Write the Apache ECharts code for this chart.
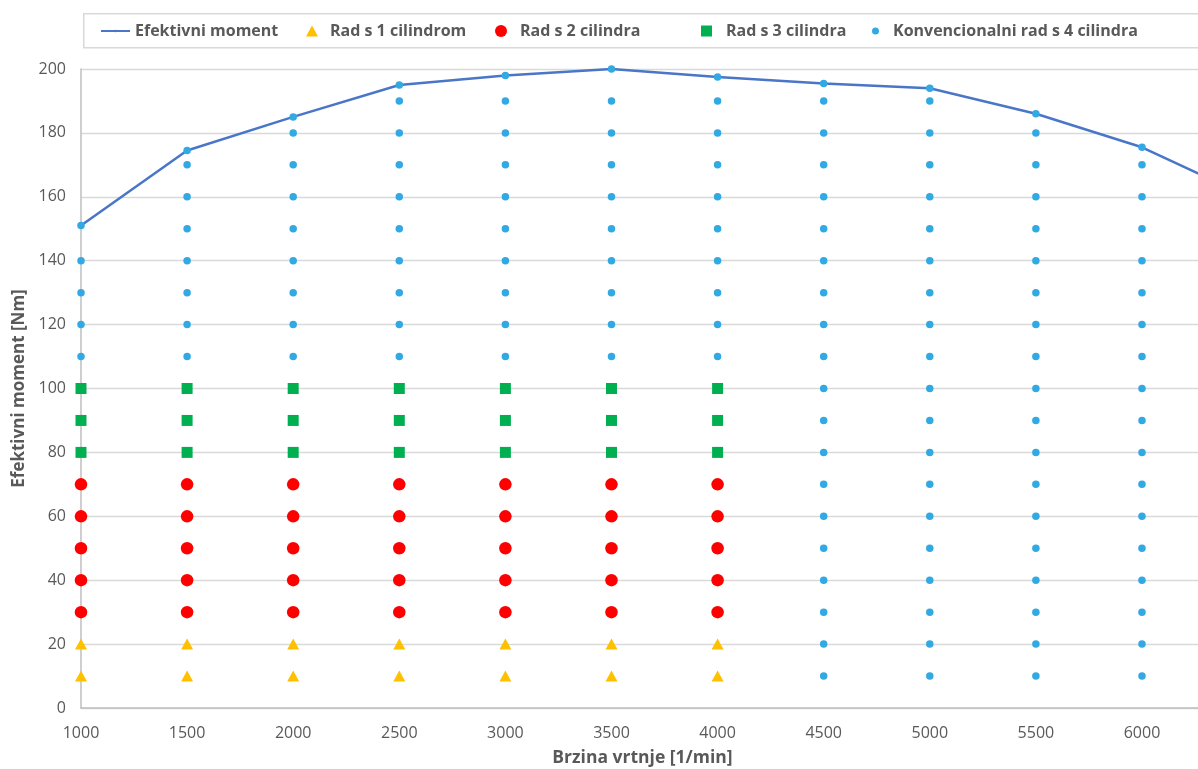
<!DOCTYPE html>
<html>
<head>
<meta charset="utf-8">
<script src="https://cdn.jsdelivr.net/npm/echarts@6/dist/echarts.min.js"></script>
<style>
html,body{margin:0;padding:0;background:#fff;}
#chart{width:1198px;height:769px;}
</style>
</head>
<body>
<div id="chart"></div>
<script>
// ---- data ----
const speeds = [1000, 1500, 2000, 2500, 3000, 3500, 4000, 4500, 5000, 5500, 6000, 6500];
const effMoment = [151, 174.5, 185, 195, 198, 200, 197.5, 195.5, 194, 186, 175.5, 160];

const cyl1Speeds = [1000, 1500, 2000, 2500, 3000, 3500, 4000];
const cyl1Torque = [10, 20];
const cyl2Speeds = [1000, 1500, 2000, 2500, 3000, 3500, 4000];
const cyl2Torque = [30, 40, 50, 60, 70];
const cyl3Speeds = [1000, 1500, 2000, 2500, 3000, 3500, 4000];
const cyl3Torque = [80, 90, 100];

const conv4Speeds = [1000, 1500, 2000, 2500, 3000, 3500, 4000, 4500, 5000, 5500, 6000];
const conv4Torque = [
  [110, 120, 130, 140, 151],
  [110, 120, 130, 140, 150, 160, 170, 174.5],
  [110, 120, 130, 140, 150, 160, 170, 180, 185],
  [110, 120, 130, 140, 150, 160, 170, 180, 190, 195],
  [110, 120, 130, 140, 150, 160, 170, 180, 190, 198],
  [110, 120, 130, 140, 150, 160, 170, 180, 190, 200],
  [110, 120, 130, 140, 150, 160, 170, 180, 190, 197.5],
  [10, 20, 30, 40, 50, 60, 70, 80, 90, 100, 110, 120, 130, 140, 150, 160, 170, 180, 190, 195.5],
  [10, 20, 30, 40, 50, 60, 70, 80, 90, 100, 110, 120, 130, 140, 150, 160, 170, 180, 190, 194],
  [10, 20, 30, 40, 50, 60, 70, 80, 90, 100, 110, 120, 130, 140, 150, 160, 170, 180, 186],
  [10, 20, 30, 40, 50, 60, 70, 80, 90, 100, 110, 120, 130, 140, 150, 160, 170, 175.5]
];

const names = ['Efektivni moment', 'Rad s 1 cilindrom', 'Rad s 2 cilindra', 'Rad s 3 cilindra', 'Konvencionalni rad s 4 cilindra'];
const xTicks = { min: 1000, max: 6264, step: 500 };
const yTicks = { min: 0, max: 200, step: 20 };

// ---- build ----
function cross(xs, ys) {
  const out = [];
  xs.forEach(x => ys.forEach(y => out.push([x, y])));
  return out;
}
const lineData = speeds.map((s, i) => [s, effMoment[i]]);
const conv4Data = [];
conv4Speeds.forEach((s, i) => conv4Torque[i].forEach(t => conv4Data.push([s, t])));

const FONT = '"Open Sans", "DejaVu Sans", sans-serif';
const TXT = '#595959';

function legendAt(name, left, w, h, pad) {
  return {
    data: [name], left: left, top: 23, itemWidth: w, itemHeight: h,
    padding: 0, selectedMode: false,
    textStyle: { color: TXT, fontFamily: FONT, fontWeight: 'bold', fontSize: 16, lineHeight: 16, padding: [0, 0, 0, pad] }
  };
}

const chart = echarts.init(document.getElementById('chart'), null, { renderer: 'canvas' });
chart.setOption({
  animation: false,
  backgroundColor: '#ffffff',
  graphic: [{
    type: 'rect', left: 83, top: 13, z: -1,
    shape: { x: 0, y: 0, width: 1140, height: 34 },
    style: { fill: '#fff', stroke: '#d9d9d9', lineWidth: 1.5 }
  }],
  legend: [
    legendAt(names[0], 100, 29, 3, 0),
    legendAt(names[1], 306, 12, 11, 7),
    legendAt(names[2], 495, 12, 12, 8),
    legendAt(names[3], 701, 11, 11, 9),
    legendAt(names[4], 872, 7, 7, 9)
  ],
  grid: { left: 81, top: 69, right: 0, height: 639, containLabel: false, outerBoundsMode: 'none' },
  xAxis: {
    type: 'value', min: xTicks.min, max: xTicks.max, interval: xTicks.step,
    name: 'Brzina vrtnje [1/min]', nameLocation: 'middle', nameGap: 41,
    nameTextStyle: { color: TXT, fontFamily: FONT, fontWeight: 'bold', fontSize: 17.5, padding: [0, 0, 0, 6] },
    axisLine: { show: true, lineStyle: { color: '#bfbfbf', width: 1.5 } },
    axisTick: { show: false },
    splitLine: { show: false },
    axisLabel: { color: TXT, fontFamily: FONT, fontSize: 16, margin: 17, showMaxLabel: false,
      formatter: v => String(v) }
  },
  yAxis: {
    type: 'value', min: yTicks.min, max: yTicks.max, interval: yTicks.step,
    name: 'Efektivni moment [Nm]', nameLocation: 'middle', nameGap: 51, nameRotate: 90,
    nameTextStyle: { color: TXT, fontFamily: FONT, fontWeight: 'bold', fontSize: 17 },
    axisLine: { show: true, lineStyle: { color: '#bfbfbf', width: 1.5 } },
    axisTick: { show: false },
    splitLine: { show: true, lineStyle: { color: '#d9d9d9', width: 1.3 } },
    axisLabel: { color: TXT, fontFamily: FONT, fontSize: 16, margin: 15 }
  },
  series: [
    {
      name: names[0], type: 'line', data: lineData, showSymbol: false, symbol: 'none', clip: true,
      lineStyle: { color: '#4a76c8', width: 2.5 }, itemStyle: { color: '#4a76c8' }, z: 3
    },
    {
      name: names[1], type: 'scatter', data: cross(cyl1Speeds, cyl1Torque),
      symbol: 'triangle', symbolSize: [12, 11], itemStyle: { color: '#ffc000', opacity: 1 }, z: 4
    },
    {
      name: names[2], type: 'scatter', data: cross(cyl2Speeds, cyl2Torque),
      symbol: 'circle', symbolSize: 12.5, itemStyle: { color: '#ff0000', opacity: 1 }, z: 4
    },
    {
      name: names[3], type: 'scatter', data: cross(cyl3Speeds, cyl3Torque),
      symbol: 'rect', symbolSize: 11, itemStyle: { color: '#00b050', opacity: 1 }, z: 4
    },
    {
      name: names[4], type: 'scatter', data: conv4Data,
      symbol: 'circle', symbolSize: 7.5, itemStyle: { color: '#33a9e3', opacity: 1 }, z: 5
    }
  ]
});
</script>
</body>
</html>
